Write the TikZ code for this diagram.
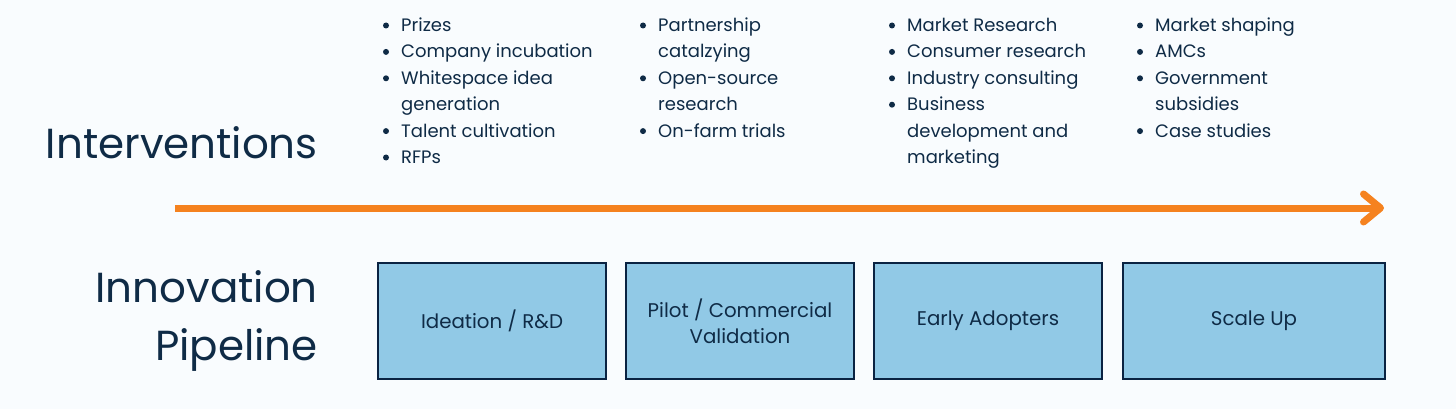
\documentclass[tikz,border=0pt]{standalone}
\usepackage{fontspec}
\setmainfont{Poppins}
\usetikzlibrary{arrows.meta}
\definecolor{bg}{HTML}{F9FCFE}
\definecolor{ink}{HTML}{0F2B46}
\definecolor{boxfill}{HTML}{91C9E6}
\definecolor{boxline}{HTML}{0A2342}
\definecolor{orange}{HTML}{F5821F}
\tikzset{
  heading/.style={font=\fontsize{42}{58}\selectfont, text=ink, inner sep=0pt, anchor=base east},
  stage/.style={draw=boxline, line width=2.5pt, fill=boxfill, minimum height=116pt, text=ink,
    font=\fontsize{19.8}{26}\selectfont, align=center, inner sep=0pt},
  itemtext/.style={font=\fontsize{18}{26}\selectfont, text=ink, inner sep=0pt, anchor=base west},
  bulletdot/.style={circle, fill=ink, minimum size=6pt, inner sep=0pt},
  timeline/.style={draw=orange, line width=7pt}
}
\begin{document}
\begin{tikzpicture}[x=1pt,y=-1pt]
\useasboundingbox[fill=bg] (0,0) rectangle (1456,409);
% headings
\node[heading] (hInt) at (318,158) {Interventions};
\node[heading] (hInn) at (318,302) {Innovation};
\node[heading] (hPip) at (318,360) {Pipeline};
% timeline arrow
\coordinate (tStart) at (175,208);
\coordinate (tEnd) at (1384,208);
\draw[timeline, -{Straight Barb[length=17pt,width=28pt,round]}] (tStart) -- (tEnd);
% stages
\node[stage, minimum width=228pt] (s1) at (492,321) {Ideation / R\&D};
\node[stage, minimum width=228pt] (s2) at (740,321) {Pilot / Commercial\\Validation};
\node[stage, minimum width=228pt] (s3) at (988,321) {Early Adopters};
\node[stage, minimum width=262pt] (s4) at (1254,321) {Scale Up};
% bullet columns
\foreach \col/\bx/\list in {
  a/386/{1/Prizes,1/Company incubation,1/Whitespace idea,0/generation,1/Talent cultivation,1/RFPs},
  b/643/{1/Partnership,0/catalzying,1/Open-source,0/research,1/On-farm trials},
  c/892/{1/Market Research,1/Consumer research,1/Industry consulting,1/Business,0/development and,0/marketing},
  d/1140/{1/Market shaping,1/AMCs,1/Government,0/subsidies,1/Case studies}}{
  \foreach \b/\t [count=\i] in \list {
    \pgfmathsetmacro{\yy}{31.5+26.4*(\i-1)}
    \node[itemtext] (\col t\i) at (\bx+15,\yy) {\t};
    \ifnum\b=1 \node[bulletdot] (\col b\i) at (\bx,\yy-6) {};\fi
  }
}
\end{tikzpicture}
\end{document}
